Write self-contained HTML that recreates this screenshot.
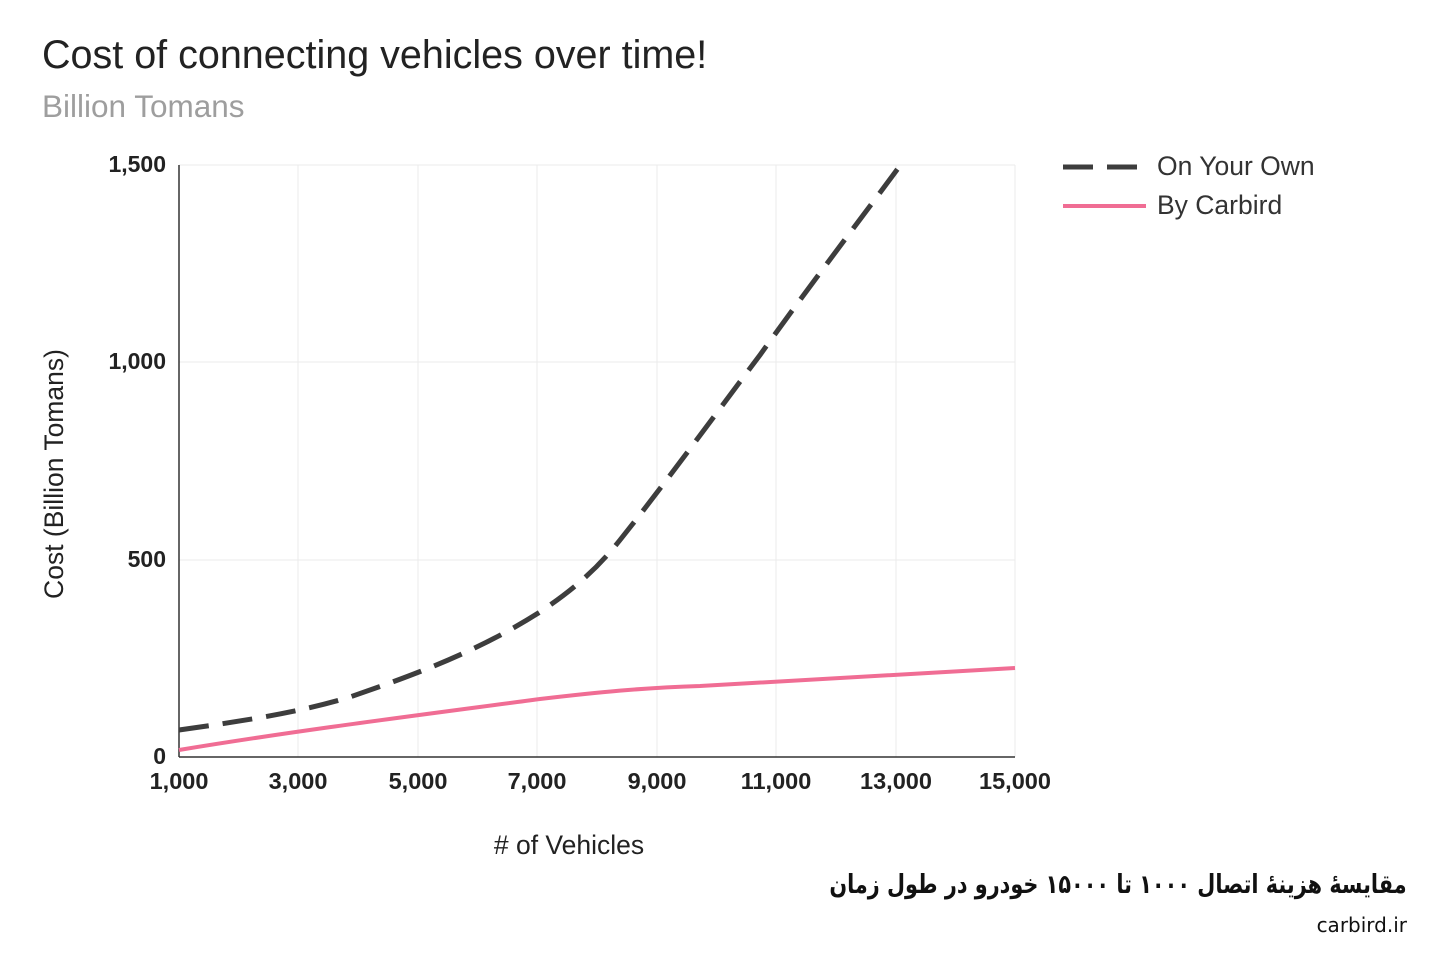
<!DOCTYPE html>
<html><head><meta charset="utf-8"><style>
body{margin:0;width:1440px;height:960px;background:#fff;overflow:hidden;font-family:"Liberation Sans",Arial,sans-serif}
.fa{position:absolute;right:33px;top:870px;font-size:26px;font-weight:bold;color:#111;direction:rtl;white-space:nowrap;font-family:"DejaVu Sans",sans-serif;transform:scaleX(0.8);transform-origin:right center}
.cb{position:absolute;right:33px;top:913px;font-size:20px;color:#111;font-family:"DejaVu Sans",sans-serif}
</style></head><body>
<svg width="1440" height="960" xmlns="http://www.w3.org/2000/svg" style="position:absolute;left:0;top:0">
<text x="42" y="68" font-size="39.5" fill="#222">Cost of connecting vehicles over time!</text>
<text x="42" y="117" font-size="31.5" fill="#9e9e9e">Billion Tomans</text>
<g stroke="#ebebeb" stroke-width="1">
<line x1="179" y1="165" x2="1015" y2="165"/><line x1="179" y1="362" x2="1015" y2="362"/><line x1="179" y1="560" x2="1015" y2="560"/>
<line x1="298" y1="165" x2="298" y2="757"/><line x1="418" y1="165" x2="418" y2="757"/><line x1="537" y1="165" x2="537" y2="757"/>
<line x1="657" y1="165" x2="657" y2="757"/><line x1="776" y1="165" x2="776" y2="757"/><line x1="896" y1="165" x2="896" y2="757"/><line x1="1015" y1="165" x2="1015" y2="757"/>
</g>
<line x1="179" y1="165" x2="179" y2="757" stroke="#333" stroke-width="1.5"/>
<line x1="179" y1="757" x2="1015" y2="757" stroke="#333" stroke-width="1.5"/>
<g font-size="23" font-weight="bold" fill="#222" text-anchor="end">
<text x="166" y="172">1,500</text><text x="166" y="369">1,000</text><text x="166" y="567">500</text><text x="166" y="764">0</text>
</g>
<g font-size="23.5" font-weight="bold" fill="#222" text-anchor="middle">
<text x="179" y="789">1,000</text><text x="298" y="789">3,000</text><text x="418" y="789">5,000</text><text x="537" y="789">7,000</text>
<text x="657" y="789">9,000</text><text x="776" y="789">11,000</text><text x="896" y="789">13,000</text><text x="1015" y="789">15,000</text>
</g>
<text x="569" y="854" font-size="26.5" fill="#222" text-anchor="middle"># of Vehicles</text>
<text transform="translate(63,474) rotate(-90)" font-size="26.5" fill="#222" text-anchor="middle">Cost (Billion Tomans)</text>
<path d="M179,730 C250,720 300,712 350,697 C420,673 480,650 540,612 C580,585 600,565 620,540 C660,490 700,435 760,355 C810,285 860,220 902,163" fill="none" stroke="#3d3d3d" stroke-width="5" stroke-dasharray="30,14"/>
<path d="M179,750 C300,730 420,715 540,699 C600,692 640,688 700,686 C800,680 900,674 1015,668" fill="none" stroke="#f06d94" stroke-width="4"/>
<line x1="1063" y1="167" x2="1146" y2="167" stroke="#3d3d3d" stroke-width="5" stroke-dasharray="30,14"/>
<line x1="1063" y1="206" x2="1146" y2="206" stroke="#f06d94" stroke-width="4"/>
<text x="1157" y="175" font-size="26.5" fill="#333">On Your Own</text>
<text x="1157" y="214" font-size="26.5" fill="#333">By Carbird</text>
</svg>
<div class="fa">مقایسهٔ هزینهٔ اتصال ۱۰۰۰ تا ۱۵۰۰۰ خودرو در طول زمان</div>
<div class="cb">carbird.ir</div>
</body></html>
